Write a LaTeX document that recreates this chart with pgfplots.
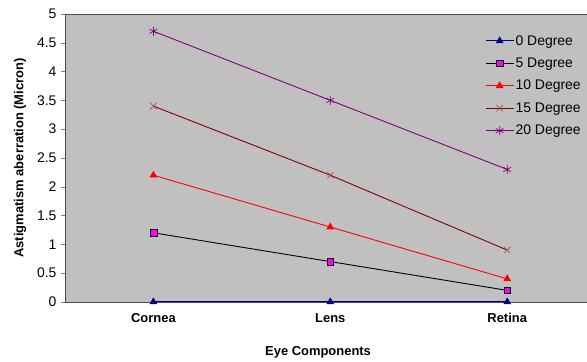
\documentclass[border=0pt]{standalone}
\usepackage{pgfplots}
\pgfplotsset{compat=1.18}
\usepackage{fontspec}
\setmainfont{Liberation Sans}
\definecolor{plotbg}{HTML}{C0C0C0}
\definecolor{navyc}{HTML}{000080}
\definecolor{maroonc}{HTML}{800000}
\definecolor{purplec}{HTML}{800080}
\definecolor{xmark}{HTML}{A05050}
\definecolor{magc}{HTML}{FF00FF}
\begin{document}
\begin{tikzpicture}
\begin{axis}[
  scale only axis,
  width=522bp, height=288bp,
  xmin=-0.5, xmax=2.45,
  ymin=0, ymax=5,
  axis background/.style={fill=plotbg},
  axis line style={draw=black!70},
  axis x line*=bottom, axis y line*=left,
  ytick={0,0.5,...,5},
  yticklabels={0,0.5,1,1.5,2,2.5,3,3.5,4,4.5,5},
  yticklabel style={font=\fontsize{14}{16}\selectfont, xshift=-1bp},
  tick align=outside,
  major tick length=4bp,
  xtick={0,1,2},
  xticklabels={Cornea,Lens,Retina},
  xticklabel style={font=\bfseries\fontsize{13}{15}\selectfont, yshift=-4bp},
  major x tick style={draw=none},
  extra x ticks={0.5,1.5},
  extra x tick labels={},
  extra x tick style={major tick length=4bp, tick style={draw=black!70}},
  ylabel={Astigmatism aberration (Micron)},
  ylabel style={font=\bfseries\fontsize{13}{15}\selectfont, at={(-45bp,0.5)}, anchor=center},
  xlabel={Eye Components},
  xlabel style={font=\bfseries\fontsize{13}{15}\selectfont, at={(0.485,0)}, anchor=center, yshift=-50bp},
  legend style={draw=none, fill=none, at={(0.805,0.932)}, anchor=north west,
    font=\fontsize{14}{16}\selectfont, row sep=8.3bp, inner sep=0pt,
    legend cell align=left, nodes={inner sep=1.5bp}},
  legend image code/.code={\draw[mark repeat=2,mark phase=2] plot coordinates {(0bp,0bp) (14bp,0bp) (28bp,0bp)};},
  every axis plot/.append style={line width=0.9pt},
  clip=false,
]
\addplot[color=navyc, mark=triangle*, mark size=3.6pt, mark options={fill=navyc}] coordinates {(0,0) (1,0) (2,0)};
\addlegendentry{0 Degree}
\addplot[color=black, mark=square*, mark size=3.4pt, mark options={fill=magc, draw=black, line width=0.6pt}] coordinates {(0,1.2) (1,0.7) (2,0.2)};
\addlegendentry{5 Degree}
\addplot[color=red, mark=triangle*, mark size=3.6pt, mark options={fill=red}] coordinates {(0,2.2) (1,1.3) (2,0.4)};
\addlegendentry{10 Degree}
\addplot[color=maroonc, mark=x, mark size=4.5pt, mark options={draw=xmark, line width=0.7pt}] coordinates {(0,3.4) (1,2.2) (2,0.9)};
\addlegendentry{15 Degree}
\addplot[color=purplec, mark=asterisk, mark size=4.5pt, mark options={line width=0.7pt}] coordinates {(0,4.7) (1,3.5) (2,2.3)};
\addlegendentry{20 Degree}
\draw[black!70] (rel axis cs:0,1) -- (rel axis cs:1,1);
\end{axis}
\path (current axis.south west) ++(-65bp,-60bp) coordinate (bl);
\path[use as bounding box] (bl) rectangle ++(587bp,362bp);
\end{tikzpicture}
\end{document}
